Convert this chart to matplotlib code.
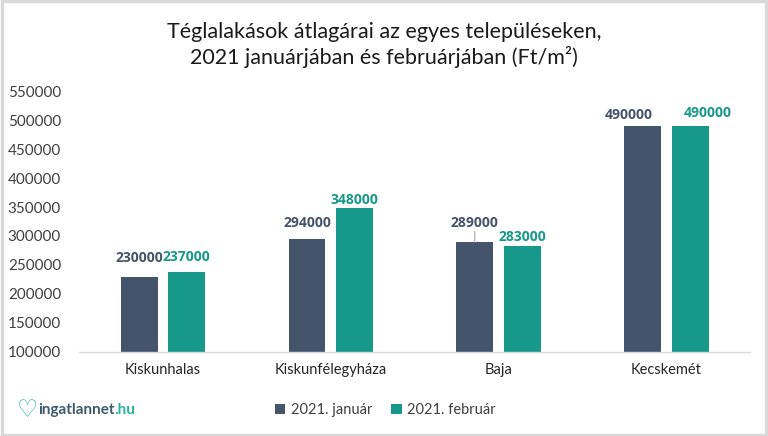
import matplotlib
matplotlib.use('Agg')
import matplotlib.pyplot as plt
import numpy as np
from matplotlib.patches import Rectangle

# adatok
varosok = ['Kiskunhalas', 'Kiskunfélegyháza', 'Baja', 'Kecskemét']
januar = [230000, 294000, 289000, 490000]
februar = [237000, 348000, 283000, 490000]
sorozatok = ['2021. január', '2021. február']
y_ticks = list(range(100000, 550001, 50000))

# színek
c_jan = '#44546A'
c_feb = '#16998A'

# címkék eltolása (pixel)
off_jan = [(0, 19), (0, 16), (0, 19), (-14, 11)]
off_feb = [(0, 15), (0, 8), (0, 9), (17, 13)]

plt.rcParams['font.family'] = ['Lato', 'DejaVu Sans']

fig = plt.figure(figsize=(7.68, 4.36), dpi=100)
ax = fig.add_axes([0.103, 0.193, 0.874, 0.598])

x = np.arange(len(varosok))
w = 0.22
d = 0.142
b1 = ax.bar(x - d, januar, w, color=c_jan, label=sorozatok[0], zorder=2)
b2 = ax.bar(x + d, februar, w, color=c_feb, label=sorozatok[1], zorder=2)

for i in range(len(varosok)):
    ax.annotate(str(januar[i]), xy=(x[i] - d, januar[i]), xytext=off_jan[i],
                textcoords='offset pixels', ha='center', va='center',
                fontsize=10, fontweight='bold', color=c_jan,
                family=['Open Sans', 'DejaVu Sans'], annotation_clip=False)
    ax.annotate(str(februar[i]), xy=(x[i] + d, februar[i]), xytext=off_feb[i],
                textcoords='offset pixels', ha='center', va='center',
                fontsize=10, fontweight='bold', color=c_feb,
                family=['Open Sans', 'DejaVu Sans'], annotation_clip=False)

# Baja vezetővonal
ax.annotate('', xy=(x[2] - d, januar[2]), xytext=(0, 11),
            textcoords='offset pixels',
            arrowprops=dict(arrowstyle='-', color='#A6A6A6', lw=0.8,
                            shrinkA=0, shrinkB=0))

ax.set_xlim(-0.5, len(varosok) - 0.5)
ax.set_ylim(100000, 550000)
ax.set_yticks(y_ticks)
ax.set_yticklabels([str(v) for v in y_ticks], fontsize=11, color='#404040')
ax.set_xticks(x)
ax.set_xticklabels(varosok, fontsize=10.5, color='#262626')
ax.tick_params(axis='both', length=0)
ax.tick_params(axis='y', pad=13)
ax.tick_params(axis='x', pad=8)
for s in ['top', 'right', 'left']:
    ax.spines[s].set_visible(False)
ax.spines['bottom'].set_color('#D9D9D9')
ax.spines['bottom'].set_linewidth(1)

fig.text(0.5, 0.897, 'Téglalakások átlagárai az egyes településeken,\n2021 januárjában és februárjában (Ft/m²)',
         ha='center', va='center', fontsize=15.5, color='#1a1a1a', linespacing=1.25)

leg = fig.legend(handles=[b1, b2], loc='center', bbox_to_anchor=(0.502, 0.06), ncol=2,
                 frameon=False, fontsize=10.5, handlelength=0.7, handleheight=0.7,
                 handletextpad=0.4, columnspacing=1.3)
for t in leg.get_texts():
    t.set_color('#404040')

# logó
fig.text(0.022, 0.06, '♡', fontsize=17, color='#2BB3A0', va='center', ha='left',
         family='DejaVu Sans')
fig.text(0.05, 0.06, 'ingatlannet', fontsize=11, color='#3F5A6E', va='center', ha='left',
         fontweight='bold')
fig.text(0.149, 0.06, '.hu', fontsize=11, color='#2BB3A0', va='center', ha='left',
         fontweight='bold')

# keret
fig.patches.append(Rectangle((0.002, 0.003), 0.996, 0.994, transform=fig.transFigure,
                             fill=False, edgecolor='#D9D9D9', lw=2.5))

fig.savefig('out.png', dpi=100)
